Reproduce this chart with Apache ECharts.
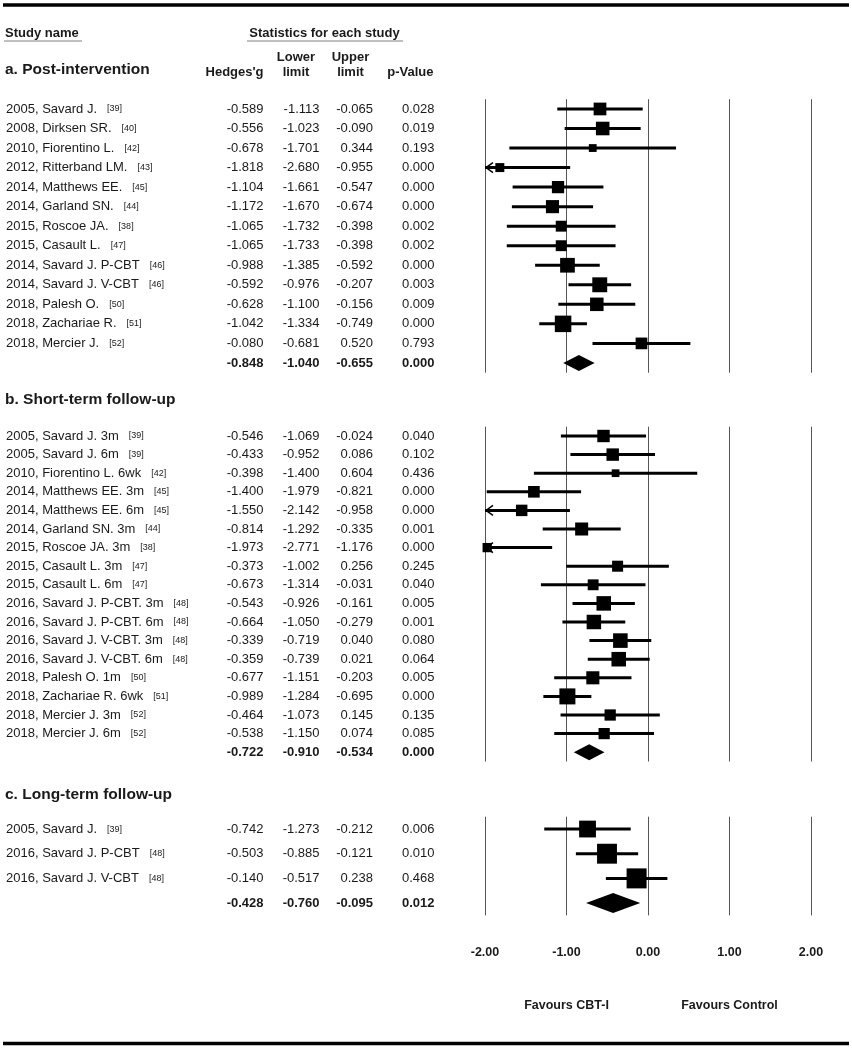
<!DOCTYPE html>
<html><head><meta charset="utf-8">
<script src="https://cdn.jsdelivr.net/npm/echarts@6/dist/echarts.min.js"></script>
<style>html,body{margin:0;padding:0;background:#fff}#c{width:852px;height:1050px}</style>
</head><body><div id="c"></div>
<script>
// ---------- data ----------
const xTicks = [-2, -1, 0, 1, 2];
const favourLabels = ['Favours CBT-I', 'Favours Control'];
const sectionTitles = ['a. Post-intervention', 'b. Short-term follow-up', 'c. Long-term follow-up'];

const studiesA = ['2005, Savard J.', '2008, Dirksen SR.', '2010, Fiorentino L.', '2012, Ritterband LM.', '2014, Matthews EE.',
  '2014, Garland SN.', '2015, Roscoe JA.', '2015, Casault L.', '2014, Savard J. P-CBT', '2014, Savard J. V-CBT',
  '2018, Palesh O.', '2018, Zachariae R.', '2018, Mercier J.'];
const refsA = ['[39]', '[40]', '[42]', '[43]', '[45]', '[44]', '[38]', '[47]', '[46]', '[46]', '[50]', '[51]', '[52]'];
const gA = [-0.589, -0.556, -0.678, -1.818, -1.104, -1.172, -1.065, -1.065, -0.988, -0.592, -0.628, -1.042, -0.080];
const lowerA = [-1.113, -1.023, -1.701, -2.680, -1.661, -1.670, -1.732, -1.733, -1.385, -0.976, -1.100, -1.334, -0.681];
const upperA = [-0.065, -0.090, 0.344, -0.955, -0.547, -0.674, -0.398, -0.398, -0.592, -0.207, -0.156, -0.749, 0.520];
const pA = [0.028, 0.019, 0.193, 0.000, 0.000, 0.000, 0.002, 0.002, 0.000, 0.003, 0.009, 0.000, 0.793];
const summaryA = [-0.848, -1.040, -0.655, 0.000];

const studiesB = ['2005, Savard J. 3m', '2005, Savard J. 6m', '2010, Fiorentino L. 6wk', '2014, Matthews EE. 3m',
  '2014, Matthews EE. 6m', '2014, Garland SN. 3m', '2015, Roscoe JA. 3m', '2015, Casault L. 3m', '2015, Casault L. 6m',
  '2016, Savard J. P-CBT. 3m', '2016, Savard J. P-CBT. 6m', '2016, Savard J. V-CBT. 3m', '2016, Savard J. V-CBT. 6m',
  '2018, Palesh O. 1m', '2018, Zachariae R. 6wk', '2018, Mercier J. 3m', '2018, Mercier J. 6m'];
const refsB = ['[39]', '[39]', '[42]', '[45]', '[45]', '[44]', '[38]', '[47]', '[47]', '[48]', '[48]', '[48]', '[48]',
  '[50]', '[51]', '[52]', '[52]'];
const gB = [-0.546, -0.433, -0.398, -1.400, -1.550, -0.814, -1.973, -0.373, -0.673, -0.543, -0.664, -0.339, -0.359,
  -0.677, -0.989, -0.464, -0.538];
const lowerB = [-1.069, -0.952, -1.400, -1.979, -2.142, -1.292, -2.771, -1.002, -1.314, -0.926, -1.050, -0.719, -0.739,
  -1.151, -1.284, -1.073, -1.150];
const upperB = [-0.024, 0.086, 0.604, -0.821, -0.958, -0.335, -1.176, 0.256, -0.031, -0.161, -0.279, 0.040, 0.021,
  -0.203, -0.695, 0.145, 0.074];
const pB = [0.040, 0.102, 0.436, 0.000, 0.000, 0.001, 0.000, 0.245, 0.040, 0.005, 0.001, 0.080, 0.064, 0.005, 0.000,
  0.135, 0.085];
const summaryB = [-0.722, -0.910, -0.534, 0.000];

const studiesC = ['2005, Savard J.', '2016, Savard J. P-CBT', '2016, Savard J. V-CBT'];
const refsC = ['[39]', '[48]', '[48]'];
const gC = [-0.742, -0.503, -0.140];
const lowerC = [-1.273, -0.885, -0.517];
const upperC = [-0.212, -0.121, 0.238];
const pC = [0.006, 0.010, 0.468];
const summaryC = [-0.428, -0.760, -0.095, 0.012];

// ---------- layout ----------
const AX_MIN = xTicks[0], AX_MAX = xTicks[xTicks.length - 1];
const PLOT_LEFT = 485, PLOT_WIDTH = 326;
const FONT = "'Liberation Sans', Arial, sans-serif";
const TXT = '#1a1a1a';
const TAU2 = 0.05; // between-study variance used for box weighting

const sections = [
  { studies: studiesA, refs: refsA, g: gA, lo: lowerA, hi: upperA, p: pA, sum: summaryA, top: 99.2, height: 273.5, maxBox: 16.5, diamondH: 16, titleY: 70 },
  { studies: studiesB, refs: refsB, g: gB, lo: lowerB, hi: upperB, p: pB, sum: summaryB, top: 426.7, height: 334.8, maxBox: 16, diamondH: 16, titleY: 400 },
  { studies: studiesC, refs: refsC, g: gC, lo: lowerC, hi: upperC, p: pC, sum: summaryC, top: 816.7, height: 98.7, maxBox: 20, diamondH: 20, titleY: 795 }
];

// column right edges (text)
const colRight = { g: 263.5, lo: 319.5, hi: 373, p: 434.5 };
const NAME_LEFT = 6;

function weightOf(lo, hi) {
  const se = (hi - lo) / (2 * 1.96);
  return 1 / (se * se + TAU2);
}

const grids = [], xAxes = [], yAxes = [], series = [];

sections.forEach((sec, s) => {
  const n = sec.studies.length;
  const cats = [];
  for (let i = 0; i <= n; i++) cats.push(String(i));
  grids.push({ left: PLOT_LEFT, width: PLOT_WIDTH, top: sec.top, height: sec.height, outerBoundsMode: 'none', containLabel: false });
  xAxes.push({
    type: 'value', gridIndex: s, min: AX_MIN, max: AX_MAX, interval: 1,
    axisLine: { show: false }, axisTick: { show: false },
    splitLine: { show: true, lineStyle: { color: '#555', width: 1 } },
    axisLabel: s === 2 ? { show: true, margin: 31, fontFamily: FONT, fontSize: 12.5, fontWeight: 'bold', color: TXT,
      formatter: v => v.toFixed(2) } : { show: false }
  });
  const base = { type: 'category', gridIndex: s, data: cats, inverse: true, position: 'left',
    axisLine: { show: false }, axisTick: { show: false }, splitLine: { show: false } };
  // study name axis
  yAxes.push(Object.assign({}, base, {
    axisLabel: { interval: 0, align: 'left', margin: PLOT_LEFT - NAME_LEFT, color: TXT, fontFamily: FONT,
      formatter: (v, i) => i < n ? '{n|' + sec.studies[i] + '}{r|' + sec.refs[i] + '}' : '',
      rich: { n: { fontSize: 13, fontFamily: FONT, color: TXT },
              r: { fontSize: 9, fontFamily: FONT, color: TXT, verticalAlign: 'middle', padding: [0, 0, 0, 10] } } }
  }));
  const cols = [['g', 0], ['lo', 1], ['hi', 2], ['p', 3]];
  cols.forEach(([key, sumIdx]) => {
    yAxes.push(Object.assign({}, base, {
      axisLabel: { interval: 0, align: 'right', margin: PLOT_LEFT - colRight[key], color: TXT, fontFamily: FONT,
        formatter: (v, i) => i < n ? '{n|' + sec[key][i].toFixed(3) + '}' : '{b|' + sec.sum[sumIdx].toFixed(3) + '}',
        rich: { n: { fontSize: 13, fontFamily: FONT, color: TXT },
                b: { fontSize: 13, fontFamily: FONT, color: TXT, fontWeight: 'bold' } } }
    }));
  });
  const yIdx = s * 5;
  const wts = sec.g.map((_, i) => weightOf(sec.lo[i], sec.hi[i]));
  const wMax = Math.max.apply(null, wts);
  const studyData = sec.g.map((g, i) => [g, sec.lo[i], sec.hi[i], wts[i], i]);
  series.push({
    type: 'custom', xAxisIndex: s, yAxisIndex: yIdx, silent: true, z: 5,
    encode: { x: [0, 1, 2], y: 4 },
    data: studyData,
    renderItem: (params, api) => {
      const est = api.value(0), lo = api.value(1), hi = api.value(2), w = api.value(3), row = api.value(4);
      const y = api.coord([0, row])[1];
      const xLo = api.coord([Math.max(lo, AX_MIN), row])[0];
      const xHi = api.coord([Math.min(hi, AX_MAX), row])[0];
      const xE = api.coord([est, row])[0];
      const side = sec.maxBox * Math.sqrt(w / wMax);
      const ch = [{ type: 'line', shape: { x1: xLo, y1: y, x2: xHi, y2: y }, style: { stroke: '#000', lineWidth: 3 } }];
      if (lo < AX_MIN) {
        ch.push({ type: 'polyline', shape: { points: [[xLo + 8, y - 5], [xLo + 1, y], [xLo + 8, y + 5]] },
          style: { stroke: '#000', lineWidth: 1.5, fill: null } });
      }
      ch.push({ type: 'rect', shape: { x: xE - side / 2, y: y - side / 2, width: side, height: side }, style: { fill: '#000' } });
      return { type: 'group', children: ch };
    }
  });
  series.push({
    type: 'custom', xAxisIndex: s, yAxisIndex: yIdx, silent: true, z: 5,
    encode: { x: [0, 1, 2], y: 3 },
    data: [[sec.sum[0], sec.sum[1], sec.sum[2], n]],
    renderItem: (params, api) => {
      const row = api.value(3);
      const y = api.coord([0, row])[1];
      const xE = api.coord([api.value(0), row])[0];
      const xL = api.coord([api.value(1), row])[0];
      const xR = api.coord([api.value(2), row])[0];
      const h = sec.diamondH / 2;
      return { type: 'polygon', shape: { points: [[xL, y], [xE, y - h], [xR, y], [xE, y + h]] }, style: { fill: '#000' } };
    }
  });
});

// favours labels axis
xAxes.push({
  type: 'value', gridIndex: 2, min: AX_MIN, max: AX_MAX, interval: 1, position: 'bottom',
  axisLine: { show: false }, axisTick: { show: false }, splitLine: { show: false },
  axisLabel: { show: true, margin: 84, fontFamily: FONT, fontSize: 12.5, fontWeight: 'bold', color: TXT,
    formatter: v => v === -1 ? favourLabels[0] : (v === 1 ? favourLabels[1] : '') }
});

const boldText = (text, x, y, size, align) => ({
  type: 'text', silent: true,
  style: { text, x, y, fill: TXT, font: 'bold ' + size + 'px ' + FONT, textAlign: align || 'left', textVerticalAlign: 'middle' }
});

const graphic = [
  { type: 'line', shape: { x1: 3, y1: 5, x2: 849, y2: 5 }, style: { stroke: '#000', lineWidth: 3.5 } },
  { type: 'line', shape: { x1: 3, y1: 1043.5, x2: 849, y2: 1043.5 }, style: { stroke: '#000', lineWidth: 3.5 } },
  boldText('Study name', 5, 33, 13),
  { type: 'line', shape: { x1: 4, y1: 41, x2: 82, y2: 41 }, style: { stroke: '#aaa', lineWidth: 1.5 } },
  boldText('Statistics for each study', 324.5, 33, 13, 'center'),
  { type: 'line', shape: { x1: 247, y1: 41, x2: 403, y2: 41 }, style: { stroke: '#aaa', lineWidth: 1.5 } },
  boldText("Hedges'g", colRight.g, 72.5, 13, 'right'),
  boldText('Lower', 296, 57, 13, 'center'),
  boldText('limit', 296, 72.5, 13, 'center'),
  boldText('Upper', 350.5, 57, 13, 'center'),
  boldText('limit', 350.5, 72.5, 13, 'center'),
  boldText('p-Value', colRight.p - 1, 72.5, 13, 'right')
];
sections.forEach((sec, s) => graphic.push(boldText(sectionTitles[s], 5, sec.titleY, 15.5)));

const chart = echarts.init(document.getElementById('c'), null, { renderer: 'canvas' });
chart.setOption({
  animation: false,
  backgroundColor: '#fff',
  grid: grids, xAxis: xAxes, yAxis: yAxes, series, graphic
});
</script>
</body></html>
